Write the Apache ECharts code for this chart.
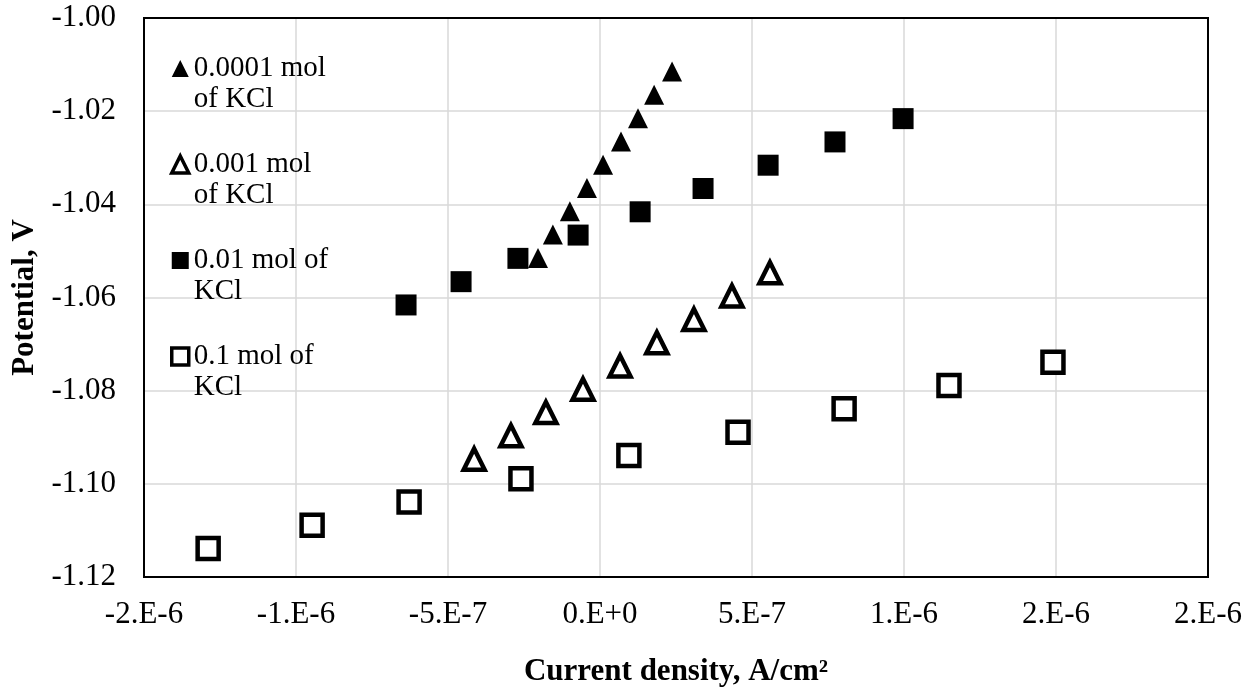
<!DOCTYPE html>
<html>
<head>
<meta charset="utf-8">
<script src="https://cdn.jsdelivr.net/npm/echarts@6/dist/echarts.min.js"></script>
<style>
html,body{margin:0;padding:0;background:#fff;}
#chart{width:1255px;height:698px;}
</style>
</head>
<body>
<div id="chart"></div>
<script>
// ---- data ----
const seriesNames = ['0.0001 mol of KCl', '0.001 mol of KCl', '0.01 mol of KCl', '0.1 mol of KCl'];
const legendLabels = ['0.0001 mol\nof KCl', '0.001 mol\nof KCl', '0.01 mol of\nKCl', '0.1 mol of\nKCl'];

const x1 = [-2.04e-7, -1.55e-7, -9.9e-8, -4.3e-8, 1.0e-8, 6.9e-8, 1.25e-7, 1.78e-7, 2.37e-7];
const y1 = [-1.0515, -1.0465, -1.0415, -1.0365, -1.0315, -1.0265, -1.0215, -1.0165, -1.0115];

const x2 = [-4.14e-7, -2.93e-7, -1.78e-7, -5.6e-8, 6.6e-8, 1.87e-7, 3.09e-7, 4.34e-7, 5.59e-7];
const y2 = [-1.0947, -1.0897, -1.0847, -1.0797, -1.0747, -1.0697, -1.0647, -1.0597, -1.0547];

const x3 = [-6.38e-7, -4.57e-7, -2.70e-7, -7.2e-8, 1.32e-7, 3.39e-7, 5.53e-7, 7.73e-7, 9.97e-7];
const y3 = [-1.0616, -1.0566, -1.0516, -1.0466, -1.0416, -1.0366, -1.0316, -1.0266, -1.0216];

const x4 = [-1.289e-6, -9.47e-7, -6.28e-7, -2.60e-7, 9.5e-8, 4.54e-7, 8.03e-7, 1.148e-6, 1.490e-6];
const y4 = [-1.1139, -1.1089, -1.1039, -1.0989, -1.0939, -1.0889, -1.0839, -1.0789, -1.0739];

const xTickLabels = ['-2.E-6', '-1.E-6', '-5.E-7', '0.E+0', '5.E-7', '1.E-6', '2.E-6', '2.E-6'];
const yTickLabels = ['-1.12', '-1.10', '-1.08', '-1.06', '-1.04', '-1.02', '-1.00'];

// ---- chart ----
const FONT = "'Liberation Serif', 'Times New Roman', serif";
function pairs(xs, ys) { return xs.map((v, i) => [v, ys[i]]); }

const chart = echarts.init(document.getElementById('chart'), null, {renderer: 'canvas'});
chart.setOption({
  animation: false,
  backgroundColor: '#fff',
  grid: {left: 144, right: 47, top: 18, bottom: 121, show: true, borderColor: '#000', borderWidth: 2, backgroundColor: 'transparent', z: 3},
  legend: {
    orient: 'vertical', left: 165, top: 17,
    itemWidth: 17, itemHeight: 17, itemGap: 3,
    textStyle: {fontFamily: FONT, fontSize: 29, color: '#000', lineHeight: 31},
    formatter: name => '\n' + legendLabels[seriesNames.indexOf(name)],
    data: [
      {name: seriesNames[0]},
      {name: seriesNames[1], itemStyle: {borderWidth: 3.5, borderColor: '#000', color: '#fff'}},
      {name: seriesNames[2]},
      {name: seriesNames[3], itemStyle: {borderWidth: 3.5, borderColor: '#000', color: '#fff'}}
    ]
  },
  xAxis: {
    type: 'value', min: -1.5e-6, max: 2e-6, interval: 5e-7,
    name: 'Current density, A/cm²', nameLocation: 'middle', nameGap: 79,
    nameTextStyle: {fontFamily: FONT, fontSize: 31, fontWeight: 'bold', color: '#000'},
    axisLine: {show: false}, axisTick: {show: false},
    axisLabel: {fontFamily: FONT, fontSize: 31, color: '#000', margin: 22,
      formatter: (v, i) => xTickLabels[i]},
    splitLine: {show: true, showMinLine: false, showMaxLine: false, lineStyle: {color: '#d9d9d9', width: 1.5}}
  },
  yAxis: {
    type: 'value', min: -1.12, max: -1.00, interval: 0.02,
    name: 'Potential, V', nameLocation: 'middle', nameGap: 94,
    nameTextStyle: {fontFamily: FONT, fontSize: 31, fontWeight: 'bold', color: '#000'},
    axisLine: {show: false}, axisTick: {show: false},
    axisLabel: {fontFamily: FONT, fontSize: 31, color: '#000', margin: 28,
      formatter: (v, i) => yTickLabels[i]},
    splitLine: {show: true, showMinLine: false, showMaxLine: false, lineStyle: {color: '#d9d9d9', width: 1.5}}
  },
  series: [
    {name: seriesNames[0], type: 'scatter', symbol: 'triangle', symbolSize: 20,
     itemStyle: {color: '#000', opacity: 1}, data: pairs(x1, y1)},
    {name: seriesNames[1], type: 'scatter', symbol: 'triangle', symbolSize: 21,
     itemStyle: {color: '#fff', borderColor: '#000', borderWidth: 4.5, opacity: 1}, data: pairs(x2, y2)},
    {name: seriesNames[2], type: 'scatter', symbol: 'rect', symbolSize: 21,
     itemStyle: {color: '#000', opacity: 1}, data: pairs(x3, y3)},
    {name: seriesNames[3], type: 'scatter', symbol: 'rect', symbolSize: 21,
     itemStyle: {color: '#fff', borderColor: '#000', borderWidth: 4.5, opacity: 1}, data: pairs(x4, y4)}
  ]
});
</script>
</body>
</html>
